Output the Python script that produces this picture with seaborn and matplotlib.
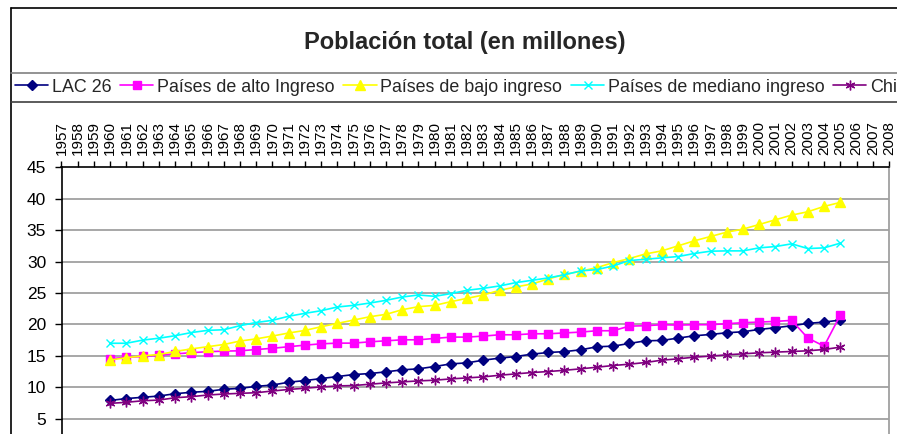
import numpy as np
import pandas as pd
import matplotlib
matplotlib.use("Agg")
import matplotlib.pyplot as plt
import seaborn as sns
from matplotlib.lines import Line2D

# data (1960-2005)
years = list(range(1960, 2006))
lac26 = [7.9, 8.2, 8.4, 8.6, 8.97, 9.2, 9.35, 9.67, 9.83, 10.14, 10.35, 10.8,
         11.06, 11.38, 11.7, 12.02, 12.18, 12.45, 12.77, 12.93, 13.3, 13.72, 13.88, 14.31,
         14.63, 14.89, 15.27, 15.53,
         15.67, 15.96, 16.44, 16.54, 16.97, 17.39, 17.45, 17.82, 18.19, 18.4, 18.67, 18.83,
         19.2, 19.47, 19.79, 20.16, 20.37, 20.69]
alto = [14.55, 14.75, 14.9, 15.1, 15.3, 15.5, 15.65, 15.75, 15.8, 16.0, 16.2, 16.45,
        16.7, 16.91, 17.02, 17.02, 17.23, 17.39, 17.55, 17.55, 17.77, 17.98, 17.98, 18.14,
        18.35, 18.35, 18.51, 18.51,
        18.64, 18.78, 18.99, 18.99, 19.73, 19.79, 19.95, 19.89, 19.95, 19.95, 20.11, 20.27,
        20.37, 20.48, 20.64, 17.82, 16.54, 21.49]
bajo = [14.33, 14.7, 15.0, 15.2, 15.7, 16.1, 16.45, 16.8, 17.35, 17.7, 18.15, 18.63,
        19.04, 19.63, 20.16, 20.69, 21.22, 21.6, 22.34, 22.82, 23.03, 23.62, 24.15, 24.68,
        25.43, 25.96, 26.44, 27.23,
        27.95, 28.46, 29.04, 29.84, 30.48, 31.22, 31.7, 32.5, 33.3, 33.99, 34.68, 35.16,
        35.9, 36.65, 37.39, 37.93, 38.78, 39.41]
mediano = [17.0, 17.0, 17.5, 17.8, 18.2, 18.7, 19.05, 19.15, 19.8, 20.3, 20.65, 21.3,
           21.76, 22.18, 22.77, 23.03, 23.4, 23.83, 24.36, 24.68, 24.47, 24.9, 25.43, 25.74,
           26.12, 26.65, 27.02, 27.4,
           27.9, 28.51, 28.72, 29.31, 30.16, 30.37, 30.59, 30.8, 31.28, 31.65, 31.7, 31.7,
           32.18, 32.39, 32.82, 32.07, 32.18, 32.93]
chile = [7.44, 7.6, 7.85, 7.96, 8.33, 8.5, 8.76, 8.92, 9.03, 9.13, 9.4, 9.65,
         9.84, 10.05, 10.21, 10.27, 10.48, 10.69, 10.85, 11.01, 11.12, 11.33, 11.49, 11.65,
         11.91, 12.13, 12.34, 12.5,
         12.7, 12.93, 13.19, 13.46, 13.67, 13.94, 14.31, 14.52, 14.79, 14.95, 15.16, 15.32,
         15.48, 15.59, 15.69, 15.8, 16.01, 16.38]

series_names = ["LAC 26", "Países de alto Ingreso", "Países de bajo ingreso",
                "Países de mediano ingreso", "Chile"]
tick_years = list(range(1957, 2009))

df = pd.DataFrame({"year": years, "LAC 26": lac26, "Países de alto Ingreso": alto,
                   "Países de bajo ingreso": bajo, "Países de mediano ingreso": mediano,
                   "Chile": chile})
long_df = df.melt(id_vars="year", var_name="serie", value_name="pob")

colors = {"LAC 26": "#000080", "Países de alto Ingreso": "#FF00FF",
          "Países de bajo ingreso": "#FFFF00", "Países de mediano ingreso": "#00FFFF",
          "Chile": "#800080"}
markers = {"LAC 26": "D", "Países de alto Ingreso": "s", "Países de bajo ingreso": "^",
           "Países de mediano ingreso": "x", "Chile": (6, 2, 0)}
msizes = {"LAC 26": 5, "Países de alto Ingreso": 5.5, "Países de bajo ingreso": 6.5,
          "Países de mediano ingreso": 6, "Chile": 7}

sns.set_theme(style="white")
plt.rcParams["font.family"] = ["Liberation Sans", "DejaVu Sans"]

fig = plt.figure(figsize=(8.97, 4.34), dpi=100)
ax = fig.add_axes([61.5 / 897, 0, 827.5 / 897, 266.7 / 434])

for name in series_names:
    sub = long_df[long_df["serie"] == name]
    sns.lineplot(data=sub, x="year", y="pob", ax=ax, color=colors[name],
                 marker=markers[name], markersize=msizes[name],
                 markeredgecolor=colors[name], markeredgewidth=1.0,
                 linewidth=1.2, label=name, legend=False)

ax.set_xlim(1957, 2008)
ax.set_ylim(2.56, 45)
ax.set_yticks(range(5, 50, 5))
ax.set_xticks(tick_years)
ax.set_xticklabels([str(y) for y in tick_years], rotation=90)
ax.xaxis.tick_top()
ax.tick_params(axis="x", top=True, bottom=False, direction="out", length=4,
               width=1, pad=5, labelsize=11, colors="black")
ax.tick_params(axis="y", left=True, direction="out", length=5, width=1, pad=6,
               labelsize=12.5, colors="black")
ax.set_xlabel("")
ax.set_ylabel("")
for y in range(5, 45, 5):
    ax.axhline(y, color="#a0a0a0", lw=1.3, zorder=0)
ax.spines["top"].set_color("black")
ax.spines["top"].set_linewidth(1.2)
ax.spines["left"].set_color("black")
ax.spines["left"].set_linewidth(1.2)
ax.spines["right"].set_color("#a0a0a0")
ax.spines["right"].set_linewidth(1.3)
ax.spines["bottom"].set_visible(False)

# chart area frame and legend box
W, H = 897.0, 434.0
fig.add_artist(Line2D([11 / W, 11 / W], [0, 1 - 8 / H], color="black", lw=1.2))
fig.add_artist(Line2D([11 / W, 1], [1 - 8 / H, 1 - 8 / H], color="black", lw=1.2))
fig.add_artist(Line2D([11 / W, 1], [1 - 73 / H, 1 - 73 / H], color="#808080", lw=1.2))
fig.add_artist(Line2D([11 / W, 1], [1 - 101.5 / H, 1 - 101.5 / H], color="#404040", lw=1.2))

fig.text(465 / W, 1 - 42 / H, "Población total (en millones)", ha="center", va="center",
         fontsize=17, fontweight="bold")

handles = ax.get_lines()[:5]
fig.legend(handles, series_names, loc="center left", bbox_to_anchor=(15 / W, 1 - 87 / H),
           ncol=5, frameon=False, fontsize=12.9, handlelength=1.85, handletextpad=0.2,
           columnspacing=0.5, borderaxespad=0, borderpad=0)

fig.savefig("out.png", dpi=100)
